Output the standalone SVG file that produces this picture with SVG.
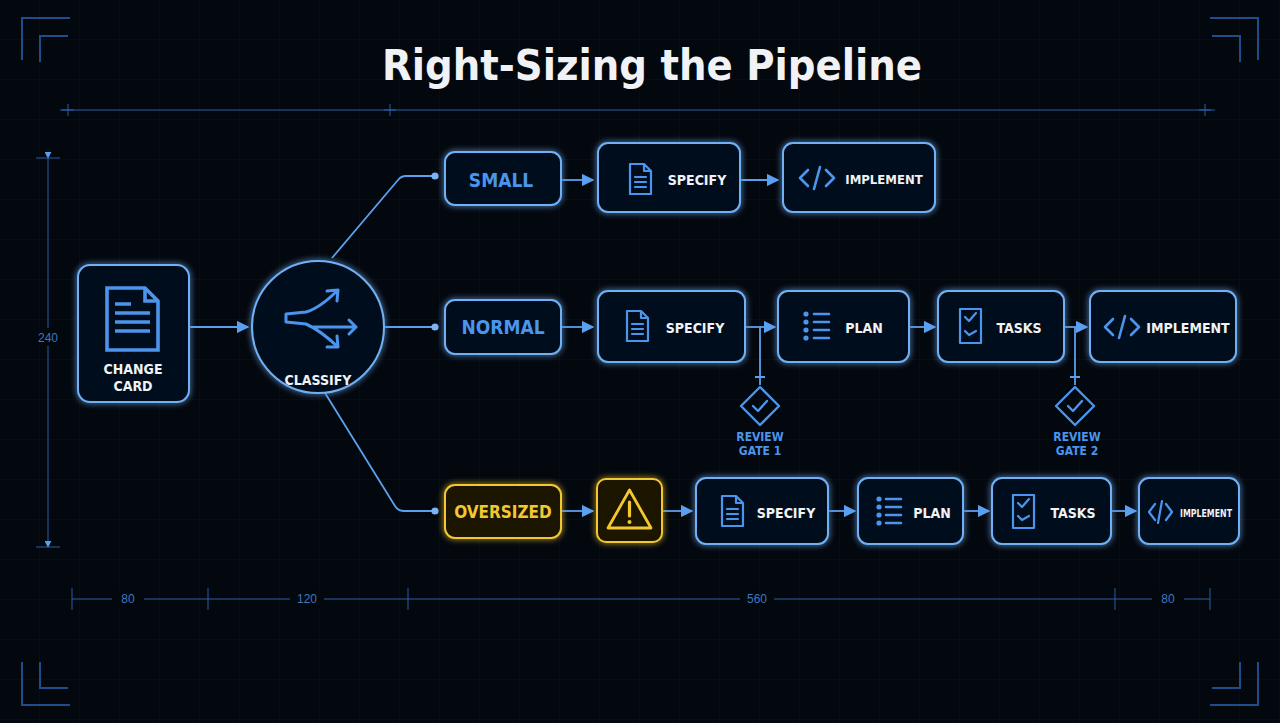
<svg xmlns="http://www.w3.org/2000/svg" width="1280" height="723" viewBox="0 0 1280 723">
<defs>
<pattern id="grid" width="40" height="40" patternUnits="userSpaceOnUse"><path d="M40 0V40H0" fill="none" stroke="#0a1220" stroke-width="1"/></pattern>
<filter id="glow" x="-30%" y="-30%" width="160%" height="160%"><feGaussianBlur stdDeviation="3" result="b"/><feMerge><feMergeNode in="b"/><feMergeNode in="SourceGraphic"/></feMerge></filter>
<marker id="ar" viewBox="0 0 10 10" refX="9" refY="5" markerWidth="7" markerHeight="7" orient="auto"><path d="M0 0L10 5L0 10z" fill="#5aa0f0"/></marker>
<marker id="dt" viewBox="0 0 10 10" refX="5" refY="5" markerWidth="5" markerHeight="5"><circle cx="5" cy="5" r="4" fill="#7ab4f5"/></marker>
</defs>
<style>
.nd{fill:#06101e;stroke:#6fb0f5;stroke-width:2;filter:url(#glow)}
.yl{fill:#1a1606;stroke:#f2c831;stroke-width:2;filter:url(#glow)}
.t{font-family:"DejaVu Sans Condensed","Liberation Sans",sans-serif;font-weight:bold;fill:#f0f2f5;text-anchor:middle}
.ic{fill:none;stroke:#4b95ec;stroke-linecap:round;stroke-linejoin:round}
.dot{fill:#4b95ec}
.cn{fill:none;stroke:#5aa0f0;stroke-width:1.8}
.dim{stroke:#2a5fa8;stroke-width:1;fill:none}
.dl{font-family:"Liberation Sans",sans-serif;font-size:12px;fill:#3d78c0;text-anchor:middle}
.br{fill:none;stroke:#1f4d8c;stroke-width:2}
</style>
<rect width="1280" height="723" fill="#03070e"/>
<rect width="1280" height="723" fill="url(#grid)"/>
<g id="frame">
<path class="br" d="M22 60V18H70M40 62V36H68"/>
<path class="br" d="M1258 60V18H1210M1240 62V36H1212"/>
<path class="br" d="M22 662V705H70M40 662V688H68"/>
<path class="br" d="M1258 662V705H1210M1240 662V688H1212"/>
<line class="dim" x1="60" y1="110" x2="1215" y2="110"/>
<path class="dim" d="M68 104V116M62 110H74M390 104V116M384 110H396M1205 104V116M1199 110H1211"/>
<line class="dim" x1="48" y1="158" x2="48" y2="547" marker-start="url(#ar)" marker-end="url(#ar)"/>
<path class="dim" d="M36 158H60M36 547H60"/>
<rect x="36" y="328" width="24" height="18" fill="#03070e"/>
<text class="dl" x="48" y="342">240</text>
<line class="dim" x1="72" y1="599" x2="1210" y2="599"/>
<path class="dim" d="M72 588V610M208 588V610M408 588V610M1115 588V610M1210 588V610"/>
<rect x="112" y="590" width="32" height="18" fill="#03070e"/><text class="dl" x="128" y="603">80</text>
<rect x="290" y="590" width="34" height="18" fill="#03070e"/><text class="dl" x="307" y="603">120</text>
<rect x="740" y="590" width="34" height="18" fill="#03070e"/><text class="dl" x="757" y="603">560</text>
<rect x="1152" y="590" width="32" height="18" fill="#03070e"/><text class="dl" x="1168" y="603">80</text>
</g>
<text class="t" x="652" y="80" style="font-size:43px;font-family:'DejaVu Sans Condensed','Liberation Sans',sans-serif">Right-Sizing the Pipeline</text>

<g id="connectors">
<line class="cn" x1="189" y1="327" x2="248" y2="327" marker-end="url(#ar)"/>
<path class="cn" d="M332 258L398 180Q401 176 406 176H435" marker-end="url(#dt)"/>
<line class="cn" x1="384" y1="327" x2="435" y2="327" marker-end="url(#dt)"/>
<path class="cn" d="M325 393L395 506Q398 511 404 511H435" marker-end="url(#dt)"/>
<line class="cn" x1="561" y1="180" x2="593" y2="180" marker-end="url(#ar)"/>
<line class="cn" x1="740" y1="180" x2="778" y2="180" marker-end="url(#ar)"/>
<line class="cn" x1="561" y1="327" x2="593" y2="327" marker-end="url(#ar)"/>
<line class="cn" x1="745" y1="327" x2="775" y2="327" marker-end="url(#ar)"/>
<line class="cn" x1="909" y1="327" x2="935" y2="327" marker-end="url(#ar)"/>
<line class="cn" x1="1064" y1="327" x2="1087" y2="327" marker-end="url(#ar)"/>
<path class="cn" d="M760 327V385M755 377H765"/>
<path class="cn" d="M1075 327V385M1070 377H1080"/>
<line class="cn" x1="561" y1="511" x2="593" y2="511" marker-end="url(#ar)"/>
<line class="cn" x1="662" y1="511" x2="692" y2="511" marker-end="url(#ar)"/>
<line class="cn" x1="828" y1="511" x2="855" y2="511" marker-end="url(#ar)"/>
<line class="cn" x1="963" y1="511" x2="989" y2="511" marker-end="url(#ar)"/>
<line class="cn" x1="1111" y1="511" x2="1136" y2="511" marker-end="url(#ar)"/>
</g>

<g id="change-card"><rect class="nd" x="78" y="265" width="111" height="137" rx="12"/>
<path class="ic" style="stroke-width:3.6;stroke-linecap:butt;stroke-linejoin:miter" d="M107 288H145L158 301V350H107Z M145 288V301H158 M115 304H131M115 313H150M115 322H150M115 331H150"/>
<text class="t" x="133" y="374" font-size="14">CHANGE</text><text class="t" x="133" y="391" font-size="14">CARD</text></g>
<g id="classify"><circle class="nd" cx="318" cy="327" r="66"/>
<path class="ic" style="stroke-width:3" d="M338 290L327 291M338 290L337 301M338 290Q320 308 306 312L286 314V322L306 324Q320 330 338 347M338 347L327 347M338 347L337 336M312 327H356M349 320L356 327L349 334"/>
<text class="t" x="318" y="385" font-size="14">CLASSIFY</text></g>

<g id="small"><rect class="nd" x="445" y="152" width="116" height="53" rx="10"/><text class="t" x="501" y="187" font-size="19" style="fill:#4b95ec">SMALL</text></g>
<g id="small-specify"><rect class="nd" x="598" y="143" width="142" height="69" rx="10"/>
<path class="ic" style="stroke-width:2.2" d="M630 164H644L651 171V194H630ZM644 164V171H651M635 177H646M635 182H646M635 187H646"/><text class="t" x="697" y="185" font-size="14">SPECIFY</text></g>
<g id="small-implement"><rect class="nd" x="783" y="143" width="152" height="69" rx="10"/>
<path class="ic" style="stroke-width:2.6" d="M808 170L800 178L808 186M826 170L834 178L826 186M820 167L814 189"/><text class="t" x="884" y="184" font-size="13">IMPLEMENT</text></g>

<g id="normal"><rect class="nd" x="445" y="300" width="116" height="54" rx="10"/><text class="t" x="503" y="334" font-size="19" style="fill:#4b95ec">NORMAL</text></g>
<g id="normal-specify"><rect class="nd" x="598" y="291" width="147" height="71" rx="10"/>
<path class="ic" style="stroke-width:2.2" d="M627 311H641L648 318V341H627ZM641 311V318H648M632 324H643M632 329H643M632 334H643"/><text class="t" x="695" y="333" font-size="14">SPECIFY</text></g>
<g id="normal-plan"><rect class="nd" x="778" y="291" width="131" height="71" rx="10"/>
<circle class="dot" cx="806" cy="314" r="2.6"/><circle class="dot" cx="806" cy="322" r="2.6"/><circle class="dot" cx="806" cy="330" r="2.6"/><circle class="dot" cx="806" cy="338" r="2.6"/>
<path class="ic" style="stroke-width:2.6" d="M814 314H829M814 322H829M814 330H829M814 338H829"/><text class="t" x="864" y="333" font-size="14">PLAN</text></g>
<g id="normal-tasks"><rect class="nd" x="938" y="291" width="126" height="71" rx="10"/>
<path class="ic" style="stroke-width:2.2" d="M960 309H981V343H960ZM965 317L969 321L976 313M965 331L969 335L976 331"/><text class="t" x="1019" y="333" font-size="14">TASKS</text></g>
<g id="normal-implement"><rect class="nd" x="1090" y="291" width="146" height="71" rx="10"/>
<path class="ic" style="stroke-width:2.6" d="M1113 319L1105 327L1113 335M1131 319L1139 327L1131 335M1125 316L1119 338"/><text class="t" x="1188" y="333" font-size="14">IMPLEMENT</text></g>

<g id="gate1"><path class="ic" style="stroke-width:2.4" d="M760 387L779 406L760 425L741 406Z M753 406L758 411L767 401"/>
<text class="t" x="760" y="441" font-size="12" style="fill:#4b95ec">REVIEW</text><text class="t" x="760" y="455" font-size="12" style="fill:#4b95ec">GATE 1</text></g>
<g id="gate2"><path class="ic" style="stroke-width:2.4" d="M1075 387L1094 406L1075 425L1056 406Z M1068 406L1073 411L1082 401"/>
<text class="t" x="1077" y="441" font-size="12" style="fill:#4b95ec">REVIEW</text><text class="t" x="1077" y="455" font-size="12" style="fill:#4b95ec">GATE 2</text></g>

<g id="oversized"><rect class="yl" x="445" y="485" width="116" height="53" rx="10"/><text class="t" x="503" y="518" font-size="17" style="fill:#f2c831">OVERSIZED</text></g>
<g id="warning"><rect class="yl" x="597" y="479" width="65" height="63" rx="9"/>
<path d="M629.5 490L651 528H608Z" fill="none" stroke="#f2c831" stroke-width="2.8" stroke-linejoin="round"/><path d="M629.5 502V516" stroke="#f2c831" stroke-width="3.2" stroke-linecap="round"/><circle cx="629.5" cy="522" r="2" fill="#f2c831"/></g>
<g id="over-specify"><rect class="nd" x="696" y="478" width="132" height="66" rx="10"/>
<path class="ic" style="stroke-width:2.2" d="M722 496H736L743 503V526H722ZM736 496V503H743M727 509H738M727 514H738M727 519H738"/><text class="t" x="786" y="518" font-size="14">SPECIFY</text></g>
<g id="over-plan"><rect class="nd" x="858" y="478" width="105" height="66" rx="10"/>
<circle class="dot" cx="879" cy="499" r="2.6"/><circle class="dot" cx="879" cy="507" r="2.6"/><circle class="dot" cx="879" cy="515" r="2.6"/><circle class="dot" cx="879" cy="523" r="2.6"/>
<path class="ic" style="stroke-width:2.6" d="M886 499H901M886 507H901M886 515H901M886 523H901"/><text class="t" x="932" y="518" font-size="14">PLAN</text></g>
<g id="over-tasks"><rect class="nd" x="992" y="478" width="119" height="66" rx="10"/>
<path class="ic" style="stroke-width:2.2" d="M1013 495H1034V528H1013ZM1018 503L1022 507L1029 499M1018 516L1022 520L1029 516"/><text class="t" x="1073" y="518" font-size="14">TASKS</text></g>
<g id="over-implement"><rect class="nd" x="1139" y="478" width="100" height="66" rx="10"/>
<path class="ic" style="stroke-width:2.2" d="M1155 504L1149 512L1155 520M1166 504L1172 512L1166 520M1162 501L1158 523"/><text class="t" x="1206" y="517" font-size="10" textLength="52" lengthAdjust="spacingAndGlyphs">IMPLEMENT</text></g>
</svg>
